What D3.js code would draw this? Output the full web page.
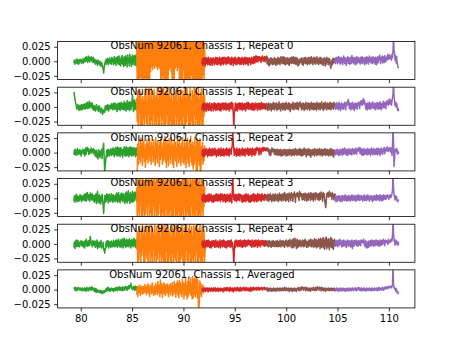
<!DOCTYPE html>
<html>
<head>
<meta charset="utf-8">
<script src="https://cdn.jsdelivr.net/npm/d3@7"></script>
<style>
  html, body { margin: 0; padding: 0; background: #fff; }
  svg { display: block; }
  text { font-family: "DejaVu Sans", sans-serif; }
</style>
</head>
<body>
<svg id="chart" width="461" height="346"></svg>
<script>
// Spectra per repeat, split into five sub-bands. Values are in units of 1e-3.
const bandColors = ["#2ca02c", "#ff7f0e", "#d62728", "#8c564b", "#9467bd"];
const bandStarts = [79.33, 85.45, 91.8, 98.1, 104.75]; // first channel of each band
const channelStep = 0.05;
const valueUnit = 1e-3;

const panelTitles = [
  "ObsNum 92061, Chassis 1, Repeat 0",
  "ObsNum 92061, Chassis 1, Repeat 1",
  "ObsNum 92061, Chassis 1, Repeat 2",
  "ObsNum 92061, Chassis 1, Repeat 3",
  "ObsNum 92061, Chassis 1, Repeat 4",
  "ObsNum 92061, Chassis 1, Averaged"
];

const xTicks = [80, 85, 90, 95, 100, 105, 110];
const yTicks = [-0.025, 0.0, 0.025];
const yLimits = [-0.0315, 0.034];

const repeat0 = [
  [-3,2,-5,1,-2,4,-4,3,0,-5,2,-3,4,-1,3,-4,1,-2,5,-3, 4,0,6,-1,8,2,5,-2,9,1,7,-1,6,3,8,0,5,-2,7,1,
   -2,3,-5,2,-4,1,-7,2,-3,-1,-6,0,-4,-9,-2,-6,-8,-14,-20,-12, -6,-1,2,-5,4,-3,5,-6,3,-2,6,-4,2,-5,7,-1,4,-6,3,8,
   -4,5,-7,6,-2,8,-5,3,9,-6,2,-8,7,-3,10,-5,4,-9,8,1, -7,10,-4,6,-10,11,-2,5,-8,12,-3,7,-9,4,11,-6,8,-2,10,-7,
   3,11,-8,6,-4,10,-9,2,8,-6,5,-3,4],
  [24,-34,38,-30,40,-38,34,-26,38,-36,32,-40,40,-30,36,-38,40,-28,38,-40, 34,-36,40,-32,38,-40,36,-18,40,-10,36,-14,38,-8,40,-12,34,-6,38,-10,
   40,-14,36,-8,38,-12,40,-38,30,-40,38,-24,34,-38,40,-36,32,-40,38,-30, 40,-34,28,-14,38,-10,34,-18,40,-38,36,-40,38,-30,40,-12,34,-8,38,-16,
   36,-10,40,-30,36,-40,38,-34,26,-38,40,-14,38,-40,34,-36,40,-38,32,-40, 38,-36,40,-38,34,-40,38,-24,36,-40,32,-38,40,-36,38,-40,30,-38,36,-34,
   40,-38,34,-40,38,-36,32,-40,38,-24,36,-30,28,-10,4],
  [-5,4,-7,5,-3,6,-7,3,6,-4,5,-6,3,7,-5,2,-7,6,-3,4, -7,5,-2,6,-6,3,-4,7,-5,3,6,-6,4,-3,7,-5,5,-7,2,6,
   -4,7,-6,4,7,-3,5,-6,6,-1,-4,8,3,-3,6,-5,4,-6,7,-2, 5,-7,3,6,-4,7,-5,2,-6,5,-3,7,-4,6,-6,3,5,-5,7,-2,
   4,-6,6,-3,7,-5,2,6,-4,5,-7,4,6,-2,5,-6,3,7,-3,4, -4,8,3,-3,9,2,-1,9,3,-1,8,2,8,1,6,-2,7,3,9,0,
   6,2,8,-1,7,3,9,2,5],
  [5,-4,6,-6,3,-8,4,-5,6,-3,5,-6,4,-2,-5,6,-4,5,-7,3, 4,-5,7,-2,-4,5,-6,4,8,-3,6,-4,8,-1,-5,7,-2,-6,5,-4,
   3,6,-5,4,-7,5,-2,6,-4,7,-3,5,8,-4,6,-1,-5,7,3,-6, 5,-8,2,-6,-4,4,-2,4,6,-5,3,-7,5,-2,6,-4,7,-3,4,-6,
   5,-3,7,-5,2,6,-4,8,-2,5,-6,4,7,-3,5,-5,6,-2,8,-4, 3,-6,5,-3,7,-4,6,-2,-5,4,-7,5,-3,6,-8,3,-5,7,-2,4,
   -6,5,-4,3,-9,-12,-4,2,-6,5,-3,4,-2,5,1],
  [4,-4,6,-1,7,-4,5,8,-2,6,-5,4,7,-3,5,-6,4,9,-1,-4, 6,-2,-7,5,-1,8,-4,6,1,-5,7,-1,-4,10,4,-2,6,-5,4,7,
   -1,-6,5,8,-3,4,6,-2,5,-5,7,-3,4,8,-4,6,-1,5,-6,7, 3,-4,8,-2,6,-5,4,9,-1,5,-3,7,2,-4,8,-2,6,3,-5,7,
   -1,-6,5,8,-3,4,6,11,1,-4,7,2,9,-3,8,4,-2,10,3,-1, 7,2,9,12,3,10,5,11,4,8,2,12,6,18,42,20,14,2,10,-3,
   8,-3,-6,-11,-9]
];

const repeat1 = [
  [26,20,14,9,5,1,-4,3,4,-2,-6,2,3,-5,-3,4,-5,1,4,-3, 5,-2,-4,6,-2,3,8,-3,-1,6,10,-2,1,7,5,-1,7,-4,-5,2,
   2,-6,-7,1,4,-3,-5,0,-8,2,1,-4,-10,-3,-2,-8,-13,-6,-5,-9, -9,1,2,-5,-5,3,4,-6,-7,2,3,-2,-3,5,6,-4,-5,4,7,-3,
   -4,6,5,-5,-8,3,6,-4,2,7,-6,-3,8,-2,-4,6,5,-5,10,2, -5,7,-7,3,11,-4,3,8,-6,2,9,-5,-1,6,21,12,-8,4,12,-5,
   7,-3,14,-6,8,-4,10,3,-6,8,-2,5,4],
  [15,-25,28,-35,20,-10,30,-38,25,-30,12,-36,18,-20,10,-34,22,-15,35,-28, 8,-38,26,-12,32,-36,14,-30,38,-22,10,-35,24,-8,30,-38,16,-25,20,-36,
   34,-18,12,-38,28,-30,36,-14,22,-36,30,-20,38,-34,18,-38,26,-28,35,-12, 28,-38,20,-30,34,-24,14,-36,22,-38,10,-28,30,-36,18,-12,24,-38,32,-20,
   8,-34,26,-38,16,-22,30,-36,12,-38,28,-16,20,-34,36,-38,14,-26,32,-10, 22,-38,18,-30,34,-36,10,-24,28,-38,20,-32,36,-14,26,-38,30,-20,16,-36,
   34,-28,12,-38,24,-22,30,-36,18,-34,26,-16,20,-8,2],
  [-6,4,-4,7,-7,3,6,-5,4,-7,7,-3,5,-6,4,7,-5,2,-7,6, -2,5,-7,4,7,-4,6,-6,3,5,-5,6,-4,7,-6,5,2,-7,6,-3,
   4,7,-5,6,-4,3,7,-6,5,-2,-4,6,2,-7,5,7,-3,4,8,-4, 6,-12,-40,-10,-4,7,-6,5,2,-7,6,-3,4,7,-5,6,-4,3,7,-6,
   5,-2,-4,6,2,-7,5,7,-3,4,8,-4,6,-3,5,2,-5,6,-4,7, -6,5,3,-5,7,-2,4,6,-6,5,-3,7,2,-5,6,-4,8,1,-3,5,
   6,-3,5,2,-4,6,1,4,0],
  [-4,5,-6,3,7,-5,4,-3,6,-7,2,5,-4,8,-2,-5,6,-3,4,7, -6,3,5,-4,9,-3,4,-7,6,-2,5,-5,7,2,-4,6,-6,4,8,-3,
   5,-4,3,7,-5,6,-8,4,-1,5,-4,8,2,-5,6,4,-3,7,5,-4, 8,2,-5,6,3,9,-1,4,-5,6,-3,7,2,-6,5,-4,8,-2,6,-5,
   4,7,-3,6,-6,5,-2,8,-4,3,6,-5,7,-1,-4,6,3,-6,8,-2, 5,-4,7,2,-5,6,-3,9,-2,4,-6,7,3,-4,8,-1,5,-5,7,2,
   -3,6,-4,8,1,-5,7,-2,6,3,-4,8,0,5,3],
  [3,-4,5,7,-3,6,3,-5,8,-2,5,-6,4,7,-3,5,2,-4,6,8, 3,-5,7,2,10,4,13,5,-3,7,3,-5,6,-2,8,-4,5,2,-6,7,
   3,-2,6,-4,5,8,2,6,-3,9,4,11,6,3,10,14,5,12,8,3, -4,6,2,-5,7,3,-3,8,1,-4,6,3,-2,9,-1,5,-3,7,2,-5,
   6,-2,8,1,-4,7,3,-3,9,2,-5,6,4,-2,10,3,-1,8,5,-3, 9,4,11,6,3,10,14,5,12,8,3,10,16,22,45,18,10,2,8,0,
   6,1,-6,-3,-7]
];

const repeat2 = [
  [-4,4,-3,6,-5,3,-2,7,-4,3,-1,5,-3,4,-6,2,0,6,-2,3, 5,-6,4,8,-3,6,9,3,7,-3,4,-2,6,1,8,-1,5,2,7,-2,
   5,-5,3,-7,4,-8,-2,-11,5,-6,3,-9,2,-4,6,-10,4,9,16,-8, -34,-22,-14,-5,4,-7,6,-4,5,-6,3,-2,7,-5,4,-3,8,-4,6,-7,
   5,9,-3,7,-6,10,3,-5,8,2,-7,9,4,-4,6,-8,5,-2,10,-5, 7,-6,10,3,-5,8,2,-7,9,4,-4,10,2,-6,8,3,-5,9,-3,6,
   -7,8,2,-5,10,-3,6,-6,9,1,-4,6,3],
  [-30,-36,15,-20,22,-10,8,-18,25,-5,12,-22,18,-8,20,-15,5,-25,14,-12, 22,2,-18,16,-6,24,-14,10,-20,18,-4,12,-16,22,-10,6,-22,26,-8,14,
   -18,20,-2,10,-24,18,-12,24,-6,16,-20,8,-14,22,-10,28,-16,12,-26,20, -12,14,-22,24,-8,10,-18,26,-4,16,-20,12,-26,22,-10,18,-14,8,-24,20,
   -6,14,-18,24,-12,10,-22,16,-8,26,-16,6,-20,22,-14,12,-26,18,-10,24, -18,8,-24,20,-6,28,-16,14,-22,18,-28,12,-20,26,-14,10,-30,24,-36,20,
   -12,16,-22,24,-38,-30,10,-12,18,-20,6,-14,12,-4,2],
  [-5,4,-7,6,-2,-6,5,-4,7,-3,4,-7,6,2,-5,8,-4,5,-6,4, 7,-5,3,6,-4,8,-3,5,-7,3,-4,6,-5,7,-3,4,-6,8,2,-5,
   5,-4,7,-6,4,-2,6,-5,8,2,-4,6,3,-6,7,2,5,-3,8,12, 40,14,6,-5,7,-3,4,-6,8,2,-5,5,-4,7,-6,4,-2,6,-5,8,
   2,-4,6,3,-6,7,2,5,-3,8,3,-5,6,-4,7,-2,5,-6,8,1, -3,6,4,-5,7,-2,6,9,4,7,3,-4,8,2,6,-3,7,4,9,2,
   6,9,4,7,3,8,5,7,3],
  [7,3,8,2,6,-4,5,-2,-5,4,8,1,7,3,5,-3,6,0,-4,5, -3,6,-5,3,5,-4,-1,6,-6,4,2,-5,5,-2,-4,6,-3,4,-6,5,
   2,-5,5,-2,-4,6,-3,4,-6,5,-2,-4,6,2,-5,4,7,-3,5,-5, 4,-2,6,-4,3,7,-5,5,-2,-6,6,2,-4,8,3,-3,6,-7,5,2,
   -4,7,3,-5,6,-1,-8,3,5,-4,6,-3,4,-6,7,-2,5,-5,3,6, -4,5,-2,7,-5,4,-3,6,-6,5,2,-4,6,-3,7,-5,3,5,-4,6,
   -2,-6,4,-3,7,-5,2,6,-4,5,-8,-3,4,-2,3],
  [3,-4,5,-2,6,-3,4,-5,5,2,-4,6,-1,4,-5,7,2,-3,5,8, -2,4,-4,6,2,-5,5,7,-2,4,-3,6,3,-4,7,2,5,-3,6,-1,
   4,8,-3,5,2,7,3,9,4,-2,8,3,-4,6,2,-5,7,3,-3,5, -2,6,-4,4,7,-3,5,-1,6,-5,3,8,-2,5,-4,7,2,-3,6,4,
   -3,7,1,-4,8,3,-2,6,-5,5,8,-1,4,-3,7,2,9,-2,5,3, 8,3,10,5,2,7,4,9,1,8,3,-5,12,42,20,-24,-10,5,2,7,
   1,6,-3,2,-2]
];

const repeat3 = [
  [-5,4,-7,5,-3,7,-6,4,2,-5,3,-4,6,-2,5,-6,4,1,-3,5, 6,-4,8,2,-5,7,10,3,-3,6,4,-5,9,-1,6,-3,8,2,-4,5,
   -7,5,-4,8,-9,2,12,-6,4,-8,6,-3,-10,3,-5,7,-6,-12,-26,-10, 5,-7,4,-5,8,-3,6,-8,4,7,-5,3,-6,8,-2,5,-7,6,3,-4,
   -6,5,-4,9,2,-7,6,10,-5,4,-8,7,-3,9,1,-6,8,-4,5,-9, 8,-6,11,2,-8,7,13,-4,6,-9,10,-5,7,-7,12,3,-6,9,-4,11,
   10,3,-5,8,2,6,-3,-8,7,-2,5,-4,2],
  [18,-32,36,-20,28,-38,34,-12,38,-30,24,-36,40,-22,30,-38,20,-28,36,-16, 32,-38,26,-10,38,-34,30,-24,36,-38,22,-30,40,-14,34,-36,28,-20,38,-32,
   30,-38,24,-26,36,-8,34,-38,20,-30,38,-24,32,-38,28,-34,40,-18,30,-38, 36,-26,22,-38,34,-20,28,-36,40,-30,26,-38,32,-14,38,-36,24,-28,40,-38,
   30,-22,36,-38,28,-34,20,-38,38,-26,34,-36,40,-16,30,-38,26,-32,38,-24, 32,-38,22,-30,40,-36,28,-12,36,-38,30,-26,38,-34,24,-38,34,-20,40,-36,
   28,-38,36,-26,22,-38,34,-20,30,-36,28,-14,20,-6,4],
  [-4,6,-6,3,7,-5,4,-7,5,-2,-5,6,2,-6,8,-4,5,-3,7,-6, 4,-2,-7,5,3,-5,6,-4,8,2,-5,6,-4,7,-3,5,-6,8,-2,4,
   7,-6,5,-4,7,-2,-7,6,4,-5,7,-3,5,-6,3,8,-5,4,-8,10, 40,12,-2,5,-4,7,2,-6,6,4,-3,8,5,-4,7,2,6,-5,4,-7,
   5,-2,-5,6,2,-6,8,-4,5,-3,7,-6,4,-2,-7,5,3,-5,6,-4, 8,2,-6,7,-3,5,-6,4,8,-5,6,-3,7,2,-4,6,-5,8,3,-2,
   5,-4,7,2,6,-3,5,1,4],
  [5,-4,7,2,-5,6,-2,8,-3,5,-6,4,7,-4,3,6,-5,8,-2,4, -4,7,3,-6,5,9,-3,6,4,-5,7,-2,8,-4,5,10,2,-5,7,4,
   -3,8,5,-6,9,3,6,-4,10,2,7,-5,8,4,11,3,-7,6,8,4, 10,2,7,-4,12,3,9,5,8,-3,7,-2,8,5,-4,9,3,6,-5,8,
   4,-3,9,2,6,-4,10,3,-2,8,5,-5,9,1,7,-3,10,4,6,-2, 8,3,-4,9,5,-2,11,2,7,-5,10,3,8,-3,-10,-16,-6,8,4,10,
   2,7,12,3,9,5,8,-2,10,4,6,-3,7,5,8],
  [-4,3,-6,2,4,-5,3,-3,5,-4,2,-6,4,3,-5,5,-3,2,4,-4, 6,-3,3,-5,4,-2,-4,5,-3,3,-5,4,-2,6,-4,3,-3,5,-2,-4,
   4,-5,3,5,-3,-1,6,-4,4,2,-3,5,-1,4,-5,3,-2,6,-4,2, -3,5,-4,3,6,-2,4,-5,3,-1,5,-3,2,-6,4,1,-3,5,-2,3,
   -4,6,-1,4,-3,5,2,-4,6,-2,3,-5,5,1,-3,6,-1,4,-2,5, -1,4,6,2,4,-2,5,3,6,1,4,8,14,44,16,7,2,-3,4,-1,
   3,-4,-6,-3,-5]
];

const repeat4 = [
  [-6,3,-8,5,-3,7,-5,3,6,-4,2,-5,4,-1,6,-3,1,4,-5,3, 4,-7,5,-2,8,-3,3,-4,6,2,-3,5,13,6,-2,3,-5,6,-1,4,
   -3,5,-6,4,-4,7,-8,3,-5,2,-6,4,-3,6,-7,-2,-5,3,-10,-8, -16,-9,-6,4,-5,6,-3,5,-7,4,-2,3,-6,5,-4,2,-5,6,-3,4,
   -5,6,-4,7,2,-6,5,8,-3,4,-6,7,2,-5,9,3,-7,6,10,-3, 5,-6,8,2,-4,7,1,-5,9,-2,6,-7,4,8,-3,6,-5,10,-2,5,
   -6,8,2,-4,7,1,-5,6,-3,8,-2,4,1],
  [-10,22,-35,18,-28,30,-15,8,-38,26,-20,34,-8,16,-36,24,-30,12,-18,36, -25,20,-38,28,-12,32,-34,10,-22,38,-36,24,-6,18,-30,34,-20,14,-38,30,
   -26,22,-14,36,-38,28,-18,10,-32,34,-24,38,-36,20,-30,32,-38,26,-12,36, -34,28,-38,18,-20,24,-30,12,-36,30,-16,26,-38,34,-22,10,-28,36,-38,20,
   -12,30,-34,24,-38,16,-26,32,-20,38,-36,14,-30,28,-38,22,-10,34,-28,18, -38,26,-16,36,-32,20,-38,30,-24,12,-36,34,-20,28,-38,24,-14,36,-30,18,
   -38,26,-22,32,-36,14,-28,30,-38,20,-20,24,-30,-12,-4],
  [-4,5,-6,3,-4,7,-7,4,-3,6,-5,3,7,-4,5,-6,4,-2,-7,5, 3,-4,6,-3,5,-6,4,7,-5,3,-4,5,-6,3,-4,7,-7,4,-3,6,
   -5,3,7,-4,5,-6,4,-2,-7,5,3,-4,6,-3,5,-6,4,7,-5,3, -4,-14,-40,-12,5,-6,4,7,-3,5,-5,3,6,-4,4,7,-5,-1,5,-6,
   6,2,-4,7,3,-5,6,2,-3,5,7,-1,4,6,-3,5,2,-6,7,-2, 4,-5,6,3,-4,7,-2,5,-6,4,7,-3,5,2,-5,6,-1,4,6,-3,
   5,2,-4,6,1,-3,5,2,1],
  [4,-3,5,-5,3,6,-4,4,-2,-6,5,2,-4,6,-3,4,-5,1,5,-4, 3,6,-5,4,-1,-4,7,2,-5,5,-3,4,6,-4,3,-6,5,-1,7,-3,
   4,-5,6,2,-4,8,-1,5,-6,7,2,-7,9,3,-5,10,-2,6,-8,8, 3,-6,5,-4,7,-2,6,-5,4,-3,7,2,-5,6,-4,8,-1,5,-6,4,
   3,-5,7,-2,6,-4,8,1,-5,7,-3,5,-6,9,2,-4,8,-7,6,3, -5,9,-3,7,-8,10,2,-6,8,-4,11,-7,6,-9,10,-3,12,-8,7,-5,
   9,3,-10,8,-4,11,-6,9,-7,6,-9,4,8,-2,6],
  [3,-4,6,-2,5,-5,7,2,-3,5,8,-1,4,-5,6,2,-4,7,3,-3, 5,-1,-6,4,7,2,-4,5,-3,6,-1,-5,4,7,-8,2,5,-4,6,-1,
   4,7,-3,5,2,-4,6,3,-2,5,-3,7,3,6,2,5,8,-2,4,-5, 6,-3,-7,-2,4,-6,5,2,-4,6,3,-3,7,-1,5,-4,6,2,-3,5,
   7,-2,4,6,-3,5,2,-4,7,3,-2,6,4,-1,8,2,5,-3,7,3, 6,2,5,-1,8,3,6,2,7,4,9,5,14,44,18,8,3,-2,7,2,
   5,-1,3,-2,4]
];

const averaged = [
  [2,3,-1,4,1,-2,3,-1,2,4,1,2,-1,3,0,2,-2,3,1,-1, -2,3,-1,2,-3,4,1,-1,3,-2,2,4,0,3,-1,5,1,2,-1,3,
   -3,1,-4,2,-3,-5,0,-4,-2,-3,-5,-1,-4,-6,-2,-5,-7,-3,-2,-5, -5,-1,1,-3,2,3,-2,4,-1,2,-3,1,-2,3,0,-1,2,-3,1,2,
   -2,3,4,-1,3,-2,4,1,5,-1,2,4,-1,3,-2,5,0,3,-1,4, 3,6,0,4,-1,5,2,7,1,4,6,11,5,2,0,4,1,6,-1,3,
   6,-1,3,5,0,4,2,-1,5,1,3,0,2],
  [-8,4,-12,6,0,-5,8,-10,3,-2,6,-8,2,5,-6,1,9,-4,3,-9, 7,-3,10,-6,2,-12,8,-1,5,-7,12,-4,0,-10,6,3,-8,11,-2,4,
   -9,14,-5,8,-3,-12,16,2,-6,10,-14,6,-4,12,-8,9,-10,6,-5,10, -6,8,-12,4,-3,10,-9,6,-2,12,-11,5,-7,14,-4,8,-13,10,-5,15,
   -9,11,-14,16,-4,12,-8,6,-12,18,-4,12,-16,10,-6,20,-10,6,-16,14, -12,18,-4,12,-8,20,-10,6,-16,22,-14,16,-8,20,-12,18,-6,22,-14,16,
   -24,-34,-20,15,-8,10,-12,6,-4,8,-6,3,-2,2,0],
  [-2,2,-3,1,3,-2,2,-3,3,-1,-2,3,-4,2,-1,3,-3,2,-2,3, -1,-3,2,3,-2,1,3,-3,2,-1,-2,3,-3,2,1,-2,3,-2,1,2,
   -2,-4,2,3,-2,1,3,-2,2,4,-1,-2,3,2,-3,4,-1,2,-2,3, -2,-4,2,3,-2,1,3,-2,2,4,-1,-2,3,2,-3,4,-1,2,-2,3,
   1,4,-1,3,-2,2,4,-1,3,1,-2,3,-1,2,-3,4,1,-2,3,0, 4,-1,2,3,0,2,4,-1,3,1,4,-1,2,3,0,3,1,4,-1,2,
   3,1,4,0,2,3,1,2,0],
  [2,-2,3,-1,-3,2,-1,3,-2,2,-3,1,2,-2,3,-1,-2,2,-3,1, 2,3,-2,1,2,-2,3,-1,-2,2,-1,3,-2,2,-1,4,1,-2,3,0,
   2,-2,3,-1,-3,2,-1,3,-2,2,-3,1,2,-2,3,-1,-2,2,-3,1, 2,4,-1,3,-2,2,4,-1,3,5,1,3,-1,4,1,3,-2,4,2,-1,
   3,-2,2,-1,3,-3,2,0,3,-1,2,4,-1,3,-2,2,4,-1,3,5, 1,3,-1,4,1,3,-2,4,2,-1,3,-2,2,-1,3,-3,2,0,2,-1,
   3,1,-2,2,-1,3,0,-2,2,1,-1,3,-2,1,0],
  [1,-2,2,-1,3,-2,2,-1,-3,2,-1,3,-2,2,-1,-2,3,-1,2,-2, 1,-3,2,-1,3,-2,1,2,-2,3,-1,2,-2,1,3,1,-2,1,2,3,
   -1,2,-2,3,0,2,4,-1,3,1,-2,3,-1,2,-2,1,3,-1,2,-2, 1,-2,3,-1,2,0,-2,3,1,-1,2,-2,3,-1,1,2,-2,3,0,2,
   -1,3,1,-2,2,4,-1,3,1,2,-1,3,0,4,2,-1,3,2,5,1, 4,2,5,2,4,6,3,5,4,6,3,5,8,42,10,4,1,3,-2,2,
   -2,-5,-3,-7,-5]
];

const panels = [repeat0, repeat1, repeat2, repeat3, repeat4, averaged];

// Figure geometry (subplot grid with hspace 0.2)
const W = 461, H = 346;
const plotLeft = 0.125 * W, plotRight = 0.9 * W;
const plotTop = (1 - 0.88) * H, plotBottom = (1 - 0.11) * H;
const nPanels = panels.length;
const panelH = (plotBottom - plotTop) / (nPanels + (nPanels - 1) * 0.2);
const gap = panelH * 0.2;

// x limits: data range plus 5% margins
const xMin = bandStarts[0];
const lastBand = panels[0][4];
const xMax = bandStarts[4] + (lastBand.length - 1) * channelStep;
const xPad = (xMax - xMin) * 0.05;

const x = d3.scaleLinear().domain([xMin - xPad, xMax + xPad]).range([plotLeft, plotRight]);

const svg = d3.select("#chart");
const fmtY = v => d3.format(".3f")(v).replace("-", "\u2212");

panels.forEach((bands, p) => {
  const y0 = plotTop + p * (panelH + gap);
  const y = d3.scaleLinear().domain(yLimits).range([y0 + panelH, y0]);
  const g = svg.append("g");

  const clipId = "clip" + p;
  svg.append("clipPath").attr("id", clipId)
    .append("rect").attr("x", plotLeft).attr("y", y0)
    .attr("width", plotRight - plotLeft).attr("height", panelH);

  const line = d3.line()
    .x(d => x(d[0]))
    .y(d => y(d[1] * valueUnit));

  const plot = g.append("g").attr("clip-path", `url(#${clipId})`);
  bands.forEach((vals, b) => {
    const pts = vals.map((v, i) => [bandStarts[b] + i * channelStep, v]);
    plot.append("path")
      .attr("d", line(pts))
      .attr("fill", "none")
      .attr("stroke", bandColors[b])
      .attr("stroke-width", 1.5)
      .attr("stroke-linejoin", "round");
  });

  // y axis
  const yAxis = d3.axisLeft(y).tickValues(yTicks).tickFormat(fmtY)
    .tickSizeInner(3.5).tickSizeOuter(0).tickPadding(3.5);
  const ya = g.append("g").attr("transform", `translate(${plotLeft},0)`).call(yAxis);
  ya.select(".domain").remove();
  ya.selectAll(".tick line").attr("stroke", "#000").attr("stroke-width", 0.8);
  ya.selectAll(".tick text").attr("font-size", 10).attr("fill", "#000")
    .style("font-family", "'DejaVu Sans', sans-serif");

  // x axis (labels only on the last panel)
  const xAxis = d3.axisBottom(x).tickValues(xTicks)
    .tickFormat(p === nPanels - 1 ? d3.format("d") : () => "")
    .tickSizeInner(3.5).tickSizeOuter(0).tickPadding(3.5);
  const xa = g.append("g").attr("transform", `translate(0,${y0 + panelH})`).call(xAxis);
  xa.select(".domain").remove();
  xa.selectAll(".tick line").attr("stroke", "#000").attr("stroke-width", 0.8);
  xa.selectAll(".tick text").attr("font-size", 10).attr("fill", "#000")
    .style("font-family", "'DejaVu Sans', sans-serif");

  // frame
  g.append("rect")
    .attr("x", plotLeft).attr("y", y0)
    .attr("width", plotRight - plotLeft).attr("height", panelH)
    .attr("fill", "none").attr("stroke", "#000").attr("stroke-width", 0.8);

  // panel title
  g.append("text")
    .attr("x", plotLeft + 0.404 * (plotRight - plotLeft))
    .attr("y", y0 + 7.8)
    .attr("text-anchor", "middle")
    .attr("font-size", 10)
    .attr("fill", "#000")
    .text(panelTitles[p]);
});
</script>
</body>
</html>
